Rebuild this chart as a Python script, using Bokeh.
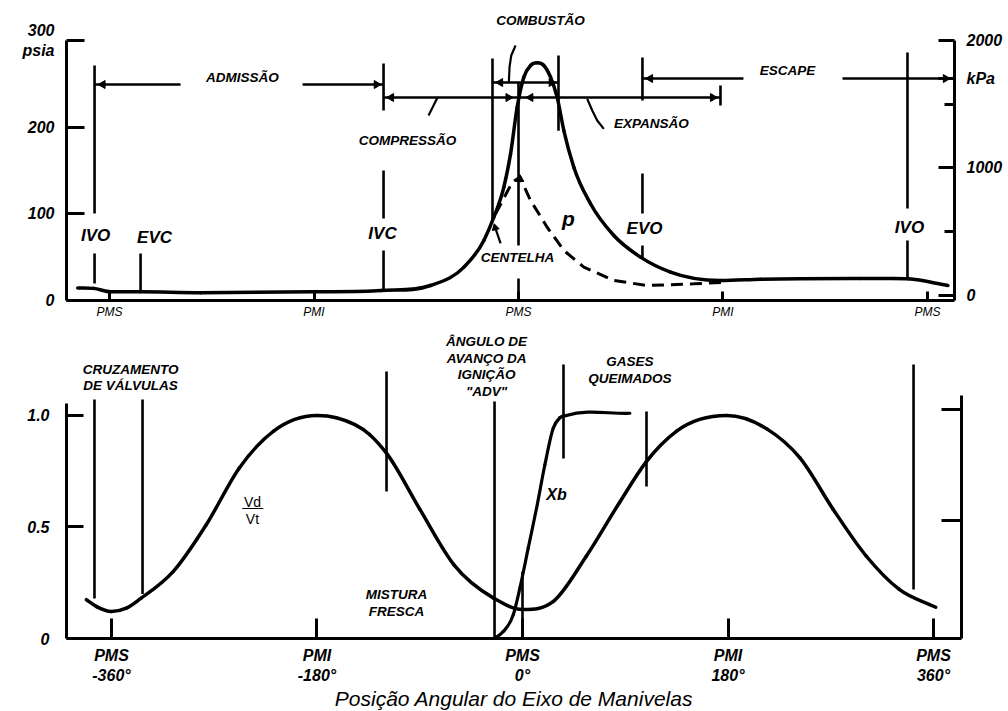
import math
from bokeh.plotting import figure
from bokeh.models import Range1d, LinearAxis, FixedTicker, ColumnDataSource
from bokeh.layouts import column
from bokeh.embed import file_html
from bokeh.resources import INLINE
from bokeh.core.properties import value

FONT = "Liberation Sans"

# ---------------- DATA: top chart (cylinder pressure, psia) ----------------
p_angle = [-388, -374, -359, -333, -280, -180, -121, -77.5, -48, -30.5, -21.7, -12.9, -7.0,
           -1.2, 4.7, 10.6, 16.4, 22.3, 28.2, 34.0, 39.9, 48.7, 63.4, 83.9, 107.4, 133.8,
           177.8, 213, 300, 330, 343, 378]
p_psia = [14.5, 14, 10, 10, 9, 10, 11.5, 17.3, 38.5, 69.2, 96.1, 130.8, 169.2,
          223, 257.7, 271.2, 274.2, 271.2, 257.7, 234.6, 196.1, 153.8, 111.6, 75, 50, 32.7,
          23.0, 24.5, 25.4, 25.4, 25.0, 17.3]
motored_angle = [-20.2, -5.5, 1.2, 10.6, 25.2, 39.9, 57.5, 83.9, 113.3, 154.3, 183.7]
motored_psia = [100, 136.5, 142.3, 115.4, 84.6, 57.7, 38.5, 23.1, 17.3, 19.2, 21.2]

psia_ticks = [0, 100, 200, 300]
psia_tick_labels = ["0", "100", "200", "300\npsia"]
kpa_ticks = [0, 1000, 1702, 2000]
kpa_tick_labels = ["0", "1000", "kPa", "2000"]
kpa_minor_ticks = [500, 1500]
crank_ticks = [-360, -180, 0, 180, 360]
top_tick_labels = ["PMS", "PMI", "PMS", "PMI", "PMS"]
bottom_tick_labels = ["PMS\n-360°", "PMI\n-180°", "PMS\n0°", "PMI\n180°", "PMS\n360°"]

# valve / combustion events (crank angle, deg)
ev_ivo1, ev_evc, ev_ivc, ev_spark, ev_tdc, ev_eoc, ev_evo, ev_bdc, ev_ivo2 = (
    -373.2, -332.7, -118.8, -22.9, 0.0, 35.2, 109.1, 177.8, 342.4)

# ---------------- DATA: bottom chart ----------------
vol_angle = [-382, -373, -360, -347, -334, -306, -277, -248, -218, -180, -163, -134,
             -119, -90, -60, -25, 0, 27, 56, 85, 108, 135, 179, 214, 243, 272, 301, 330, 362]
vol_ratio = [0.174, 0.143, 0.121, 0.136, 0.181, 0.30, 0.51, 0.765, 0.93, 1.0, 0.99, 0.915,
             0.83, 0.58, 0.33, 0.18, 0.13, 0.166, 0.37, 0.61, 0.79, 0.93, 1.0, 0.94, 0.81, 0.58,
             0.37, 0.22, 0.14]
xb_angle = [-24.3, -16.9, -8.1, -2.3, 5.0, 12.3, 19.6, 26.9, 32.7, 38.5, 94.0]
xb_frac = [0.0, 0.031, 0.106, 0.226, 0.405, 0.584, 0.779, 0.943, 0.99, 1.0, 1.01]
frac_ticks = [0, 0.5, 1.0]
frac_tick_labels = ["0", "0.5", "1.0"]
bev_ivo1, bev_evc, bev_ivc, bev_spark, bev_eoc, bev_evo, bev_ivo2 = (
    -374.9, -332.8, -119.1, -24.5, 35.9, 108.6, 342.5)


def style_axis(ax, size, style, tick_in, standoff):
    ax.axis_line_width = 3
    ax.axis_line_color = "black"
    ax.major_tick_in = tick_in
    ax.major_tick_out = 0
    ax.major_tick_line_width = 3
    ax.major_tick_line_color = "black"
    ax.minor_tick_in = 0
    ax.minor_tick_out = 0
    ax.major_label_text_font = FONT
    ax.major_label_text_font_size = size
    ax.major_label_text_font_style = style
    ax.major_label_text_color = "black"
    ax.major_label_standoff = standoff


def add_text(p, xs, ys, texts, size, style="bold italic"):
    src = ColumnDataSource(dict(x=xs, y=ys, t=texts))
    p.text("x", "y", text="t", source=src, text_font=value(FONT), text_font_size=size,
           text_font_style=style, text_align="center", text_baseline="middle", text_color="black")


def smooth_curve(p, xs, ys, **kw):
    """Draw a smooth monotone Hermite curve (cubic Bezier pieces) through the read data points."""
    n = len(xs)
    h = [xs[i + 1] - xs[i] for i in range(n - 1)]
    s = [(ys[i + 1] - ys[i]) / h[i] for i in range(n - 1)]
    m = [0.0] * n
    m[0], m[-1] = s[0], s[-1]
    for i in range(1, n - 1):
        if s[i - 1] * s[i] <= 0:
            m[i] = (s[i - 1] * h[i] + s[i] * h[i - 1]) / (h[i - 1] + h[i]) if abs(s[i - 1]) + abs(s[i]) > 0.02 and s[i - 1] * s[i] < 0 and False else 0.0
        else:
            m[i] = (s[i - 1] * h[i] + s[i] * h[i - 1]) / (h[i - 1] + h[i])
    d = dict(x0=[], y0=[], x1=[], y1=[], cx0=[], cy0=[], cx1=[], cy1=[])
    for i in range(n - 1):
        d["x0"].append(xs[i]); d["y0"].append(ys[i])
        d["x1"].append(xs[i + 1]); d["y1"].append(ys[i + 1])
        d["cx0"].append(xs[i] + h[i] / 3.0); d["cy0"].append(ys[i] + m[i] * h[i] / 3.0)
        d["cx1"].append(xs[i + 1] - h[i] / 3.0); d["cy1"].append(ys[i + 1] - m[i + 1] * h[i] / 3.0)
    p.bezier("x0", "y0", "x1", "y1", "cx0", "cy0", "cx1", "cy1",
             source=ColumnDataSource(d), line_cap="round", **kw)


# ======================= TOP FIGURE =======================
top = figure(frame_width=888, frame_height=300, min_border_left=66, min_border_right=54,
             min_border_top=0, min_border_bottom=20,
             x_range=Range1d(-397.9, 383.8), y_range=Range1d(0, 346.15),
             x_axis_type=None, y_axis_type=None, output_backend="svg",
             toolbar_location=None, outline_line_color=None, background_fill_color="white")
top.extra_y_ranges = {"kpa": Range1d(-39.2, 2313.7)}

ax = LinearAxis(ticker=FixedTicker(ticks=psia_ticks), bounds=(0, 300),
                major_label_overrides=dict(zip(psia_ticks, psia_tick_labels)))
style_axis(ax, "16px", "bold italic", 18, 12)
top.add_layout(ax, "left")

ax = LinearAxis(y_range_name="kpa", ticker=FixedTicker(ticks=kpa_ticks, minor_ticks=kpa_minor_ticks),
                bounds=(-39.2, 2000),
                major_label_overrides=dict(zip(kpa_ticks, kpa_tick_labels)))
style_axis(ax, "16px", "bold italic", 16, 12)
ax.minor_tick_in = 10
ax.minor_tick_line_width = 3
ax.minor_tick_line_color = "black"
top.add_layout(ax, "right")

ax = LinearAxis(ticker=FixedTicker(ticks=crank_ticks),
                major_label_overrides=dict(zip(crank_ticks, top_tick_labels)))
style_axis(ax, "12px", "italic", 9, 4)
top.add_layout(ax, "below")

# curves
smooth_curve(top, p_angle, p_psia, line_width=3.5, line_color="black")
top.line(motored_angle, motored_psia, line_width=3, color="black", line_dash="12 7")

# vertical event lines (angle, y0, y1)
vl = [(ev_ivo1, 100.4, 271.1), (ev_ivo1, 19.6, 54.2), (ev_evc, 10.4, 54.2),
      (ev_ivc, 219.2, 273.5), (ev_ivc, 94.6, 150.0), (ev_ivc, 11.5, 57.7),
      (ev_spark, 92.3, 279.2), (ev_tdc, 63.5, 251.5), (ev_tdc, 0, 25.4),
      (ev_eoc, 196.0, 282.7),
      (ev_evo, 230.8, 280.4), (ev_evo, 100.4, 146.5), (ev_evo, 48.5, 63.5),
      (ev_bdc, 225.0, 248.0),
      (ev_ivo2, 106.1, 286.1), (ev_ivo2, 25.4, 69.2)]
top.segment([v[0] for v in vl], [v[1] for v in vl], [v[0] for v in vl], [v[2] for v in vl],
            line_width=2.6, color="black")

# horizontal phase arrows (y, x0, x1)
hl = [(249.2, ev_ivo1, -297.5), (249.2, -190.1, ev_ivc),
      (234.2, ev_ivc, ev_bdc),
      (251.5, ev_spark, ev_eoc),
      (256.1, ev_evo, 198.0), (256.1, 285.2, 383.8)]
top.segment([h[1] for h in hl], [h[0] for h in hl], [h[2] for h in hl], [h[0] for h in hl],
            line_width=2.6, color="black")

# arrowheads
L, R, U = math.pi / 2, -math.pi / 2, 0.0
ah = [(-366, 249.2, L), (-125, 249.2, R), (-112, 234.2, L), (-9, 234.2, R), (10.6, 234.2, L),
      (171, 234.2, R), (-16, 251.5, L), (29, 251.5, R), (116, 256.1, L), (376, 256.1, R),
      (1.2, 140, U)]
top.scatter([a[0] for a in ah], [a[1] for a in ah], angle=[a[2] for a in ah], marker="triangle",
            size=8, color="black")

# leaders
top.line([-71.3, -79.2], [234.2, 213.5], line_width=2.2, color="black")
top.line([60.5, 64.9, 69.3, 75.1], [232.7, 219.2, 207.7, 198.1], line_width=2.2, color="black")
top.line([-8.5, -7.9, -6.4, -2.6], [251.9, 269.2, 282.7, 294.2], line_width=2.2, color="black")
top.line([-15.8, -21.1], [65.8, 86.5], line_width=2.2, color="black")
top.scatter([-20.5], [84], angle=[0.25], marker="triangle", size=7, color="black")

add_text(top, [19.4, -243, -97.7, 117, 236.8, -0.9], [323, 257.3, 184.6, 204.2, 265.4, 49.6],
         ["COMBUSTÃO", "ADMISSÃO", "COMPRESSÃO", "EXPANSÃO", "ESCAPE", "CENTELHA"], "13.5px")
add_text(top, [-372.3, -320.4, -119.7, 110.9, 344.2], [75, 72.7, 77.3, 83.1, 84.2],
         ["IVO", "EVC", "IVC", "EVO", "IVO"], "17px")
add_text(top, [44], [94.6], ["p"], "21px")

# ======================= BOTTOM FIGURE =======================
bot = figure(frame_width=895, frame_height=317, min_border_left=60, min_border_right=53,
             min_border_top=0, min_border_bottom=74,
             x_range=Range1d(-399.4, 384.5), y_range=Range1d(0, 1.4215),
             x_axis_type=None, y_axis_type=None, output_backend="svg",
             toolbar_location=None, outline_line_color=None, background_fill_color="white")
bot.extra_y_ranges = {"r": Range1d(-0.0269, 1.3946)}

ax = LinearAxis(ticker=FixedTicker(ticks=frac_ticks), bounds=(0, 1.054),
                major_label_overrides=dict(zip(frac_ticks, frac_tick_labels)))
style_axis(ax, "16px", "bold italic", 17, 17)
bot.add_layout(ax, "left")

ax = LinearAxis(y_range_name="r", ticker=FixedTicker(ticks=[0.5, 1.0]), bounds=(-0.0269, 1.063))
style_axis(ax, "1px", "normal", 20, 0)
ax.major_label_text_alpha = 0
bot.add_layout(ax, "right")

ax = LinearAxis(ticker=FixedTicker(ticks=crank_ticks),
                major_label_overrides=dict(zip(crank_ticks, bottom_tick_labels)),
                axis_label="Posição Angular do Eixo de Manivelas")
style_axis(ax, "16px", "bold italic", 20, 8)
ax.axis_label_text_font = FONT
ax.axis_label_text_font_size = "21px"
ax.axis_label_text_font_style = "italic"
ax.axis_label_text_color = "black"
ax.axis_label_standoff = 0
bot.add_layout(ax, "below")

smooth_curve(bot, vol_angle, vol_ratio, line_width=3.5, line_color="black")
smooth_curve(bot, xb_angle, xb_frac, line_width=3.2, line_color="black")

bvl = [(bev_ivo1, 0.179, 1.072), (bev_evc, 0.2, 1.072), (bev_ivc, 0.659, 1.197),
       (bev_spark, 0, 1.063), (0.0, 0, 0.30), (bev_eoc, 0.807, 1.229),
       (bev_evo, 0.682, 1.018), (bev_ivo2, 0.22, 1.229)]
bot.segment([v[0] for v in bvl], [v[1] for v in bvl], [v[0] for v in bvl], [v[2] for v in bvl],
            line_width=2.6, color="black")

add_text(bot, [-343.3, -343.3, -31.5, -31.5, -31.5, -31.5, 94, 94, -110.4, -110.4],
         [1.206, 1.135, 1.332, 1.256, 1.184, 1.108, 1.242, 1.166, 0.197, 0.121],
         ["CRUZAMENTO", "DE VÁLVULAS", "ÂNGULO DE", "AVANÇO DA", "IGNIÇÃO", "\"ADV\"",
          "GASES", "QUEIMADOS", "MISTURA", "FRESCA"], "13.5px")
add_text(bot, [29.8], [0.646], ["Xb"], "16px")
add_text(bot, [-236.5, -236.5], [0.614, 0.538], ["Vd", "Vt"], "14px", style="normal")
bot.segment([-245.5], [0.583], [-227], [0.583], line_width=1.2, color="black")

layout = column(top, bot, spacing=0)
open("out.html", "w").write(file_html(layout, INLINE))
